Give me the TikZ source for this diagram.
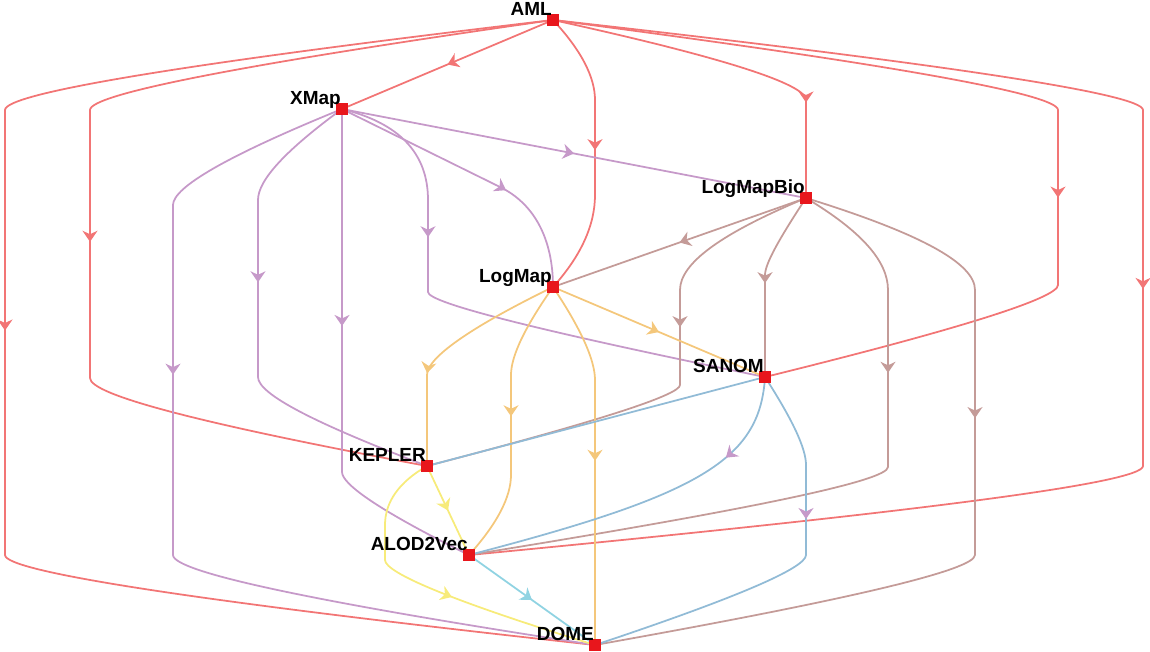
\documentclass[tikz,border=0pt]{standalone}
\usepackage{fontspec}
\setsansfont{Liberation Sans}
\usetikzlibrary{arrows.meta, decorations.markings, backgrounds}

\definecolor{vred}{HTML}{E8161C}
\definecolor{caml}{HTML}{F27575}
\definecolor{cxmap}{HTML}{C699C9}
\definecolor{cbio}{HTML}{C49B98}
\definecolor{clogmap}{HTML}{F4C77B}
\definecolor{csanom}{HTML}{91BBD6}
\definecolor{ckepler}{HTML}{F7EB7A}
\definecolor{calod}{HTML}{90D3E2}

\tikzset{
  arr/.style={postaction={decorate, decoration={markings,
    mark=at position #1 with {\arrow{Stealth[length=0.22cm, width=0.3cm, inset=0.07cm]}}}}},
  arrp/.style={postaction={decorate, decoration={markings,
    mark=at position #1 with {\arrow{Stealth[length=0.22cm, width=0.3cm, inset=0.07cm, color=cxmap]}}}}},
  link/.style={line width=1pt},
  vtx/.style={fill=vred, inner sep=0pt, minimum size=0.24cm},
  lbl/.style={font=\sffamily\bfseries\fontsize{10.8}{13}\selectfont, inner sep=0pt,
    anchor=base east, xshift=0.11cm, yshift=0.09cm}
}

\begin{document}
\begin{tikzpicture}[x=0.02cm, y=-0.02cm]
    \useasboundingbox (0,0) rectangle (1150,652);
    % Vertices, one per layer
    \node[vtx, label={[lbl]180:AML}] (aml) at (553,20) {};
    \node[vtx, label={[lbl]180:XMap}] (xmap) at (342,109) {};
    \node[vtx, label={[lbl]180:LogMapBio}] (lmb) at (806,198) {};
    \node[vtx, label={[lbl]180:LogMap}] (lm) at (553,287) {};
    \node[vtx, label={[lbl]180:SANOM}] (sanom) at (765,377) {};
    \node[vtx, label={[lbl]180:KEPLER}] (kepler) at (427,466) {};
    \node[vtx, label={[lbl]180:ALOD2Vec}] (alod) at (469,555) {};
    \node[vtx, label={[lbl]180:DOME}] (dome) at (595,645) {};
    \begin{pgfonlayer}{background}
        % Edges from AML
        \draw[link, caml, arr=0.5] (aml.center) -- (xmap.center);
        \draw[link, caml, arr=2.85cm] (aml.center) .. controls (581,50) and (595,77) .. (595,100) -- (595,195) .. controls (595,225) and (581,256) .. (lm.center);
        \draw[link, caml, arr=5.42cm] (aml.center) .. controls (722,57) and (806,84) .. (806,100) -- (lmb.center);
        \draw[link, caml, arr=12.06cm] (aml.center) .. controls (890,64) and (1058,94) .. (1058,110) -- (1058,285) .. controls (1058,298) and (960,329) .. (sanom.center);
        \draw[link, caml, arr=15.56cm] (aml.center) .. controls (946,64) and (1143,94) .. (1143,110) -- (1143,466) .. controls (1143,483) and (918,512) .. (alod.center);
        \draw[link, caml, arr=12.12cm] (aml.center) .. controls (244,64) and (90,94) .. (90,110) -- (90,378) .. controls (90,395) and (202,424) .. (kepler.center);
        \draw[link, caml, arr=15.57cm] (aml.center) .. controls (188,63) and (5,93) .. (5,110) -- (5,555) .. controls (5,572) and (202,602) .. (dome.center);
        % Edges from XMap
        \draw[link, cxmap, arr=0.5] (xmap.center) -- (lmb.center);
        \draw[link, cxmap, arr=3.66cm] (xmap.center) -- (500,187) .. controls (535,204) and (553,240) .. (lm.center);
        \draw[link, cxmap, arr=3.48cm] (xmap.center) .. controls (399,123) and (428,153) .. (428,200) -- (428,292) .. controls (428,303) and (540,331) .. (sanom.center);
        \draw[link, cxmap, arr=4.18cm] (xmap.center) .. controls (286,150) and (258,180) .. (258,200) -- (258,377) .. controls (258,394) and (314,423) .. (kepler.center);
        \draw[link, cxmap, arr=4.34cm] (xmap.center) -- (342,472) .. controls (342,485) and (384,513) .. (alod.center);
        \draw[link, cxmap, arr=7.35cm] (xmap.center) .. controls (229,155) and (173,187) .. (173,205) -- (173,555) .. controls (173,572) and (314,602) .. (dome.center);
        % Edges from LogMapBio
        \draw[link, cbio, arr=0.5] (lmb.center) -- (lm.center);
        \draw[link, cbio, arr=1.92cm] (lmb.center) .. controls (779,239) and (765,264) .. (765,275) -- (sanom.center);
        \draw[link, cbio, arr=3.98cm] (lmb.center) .. controls (722,233) and (680,263) .. (680,290) -- (680,385) .. controls (680,395) and (596,422) .. (kepler.center);
        \draw[link, cbio, arr=4.22cm] (lmb.center) .. controls (861,231) and (888,261) .. (888,290) -- (888,467) .. controls (888,481) and (748,510) .. (alod.center);
        \draw[link, cbio, arr=6.54cm] (lmb.center) .. controls (919,233) and (975,263) .. (975,290) -- (975,555) .. controls (975,570) and (848,600) .. (dome.center);
        % Edges from LogMap
        \draw[link, clogmap, arr=0.5] (lm.center) -- (sanom.center);
        \draw[link, clogmap, arr=3.1cm] (lm.center) .. controls (469,328) and (427,358) .. (427,375) -- (kepler.center);
        \draw[link, clogmap, arr=2.8cm] (lm.center) .. controls (525,327) and (511,356) .. (511,375) -- (511,475) .. controls (511,497) and (497,524) .. (alod.center);
        \draw[link, clogmap, arr=3.68cm] (lm.center) .. controls (581,329) and (595,360) .. (595,380) -- (dome.center);
        % Edges from SANOM
        \draw[link, csanom] (sanom.center) -- (kepler.center);
        \draw[link, csanom, arrp=1.85cm] (sanom.center) .. controls (760,460) and (700,495) .. (alod.center);
        \draw[link, csanom, arrp=3.04cm] (sanom.center) .. controls (792,419) and (806,448) .. (806,465) -- (806,555) .. controls (806,568) and (736,598) .. (dome.center);
        % Edges from KEPLER and ALOD2Vec
        \draw[link, ckepler, arr=0.5] (kepler.center) -- (alod.center);
        \draw[link, ckepler, arr=3.78cm] (kepler.center) .. controls (399,482) and (385,502) .. (385,525) -- (385,560) .. controls (385,573) and (455,602) .. (dome.center);
        \draw[link, calod, arr=0.5] (alod.center) -- (dome.center);
    \end{pgfonlayer}
\end{tikzpicture}
\end{document}
